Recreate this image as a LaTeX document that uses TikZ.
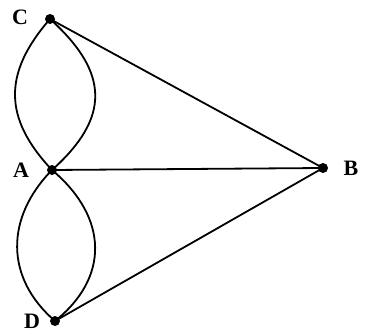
\documentclass[tikz,border=0pt]{standalone}
\usepackage{fontspec}
\setmainfont{Liberation Serif}
\begin{document}
\begin{tikzpicture}[x=1pt,y=1pt,
  vtx/.style={circle,fill=black,inner sep=0pt,minimum size=10pt},
  lbl/.style={font=\fontsize{22}{22}\selectfont\bfseries,inner sep=0pt},
  edge/.style={line width=1.8pt,black}]
\useasboundingbox (0,0) rectangle (365,333);
\node[vtx] (C) at (50,314) {};
\node[vtx] (A) at (52,163) {};
\node[vtx] (B) at (323,165) {};
\node[vtx] (D) at (55,12) {};
\node[lbl] (lC) at (20,316) {C};
\node[lbl] (lA) at (21,163) {A};
\node[lbl] (lB) at (351,165) {B};
\node[lbl] (lD) at (32,12) {D};
\draw[edge] (C.center) .. controls (3,260) and (3,215) .. (A.center);
\draw[edge] (C.center) .. controls (110,260) and (110,215) .. (A.center);
\draw[edge] (A.center) .. controls (5,115) and (5,55) .. (D.center);
\draw[edge] (A.center) .. controls (109,115) and (109,55) .. (D.center);
\draw[edge] (C.center) -- (B.center);
\draw[edge] (A.center) -- (B.center);
\draw[edge] (D.center) -- (B.center);
\end{tikzpicture}
\end{document}
